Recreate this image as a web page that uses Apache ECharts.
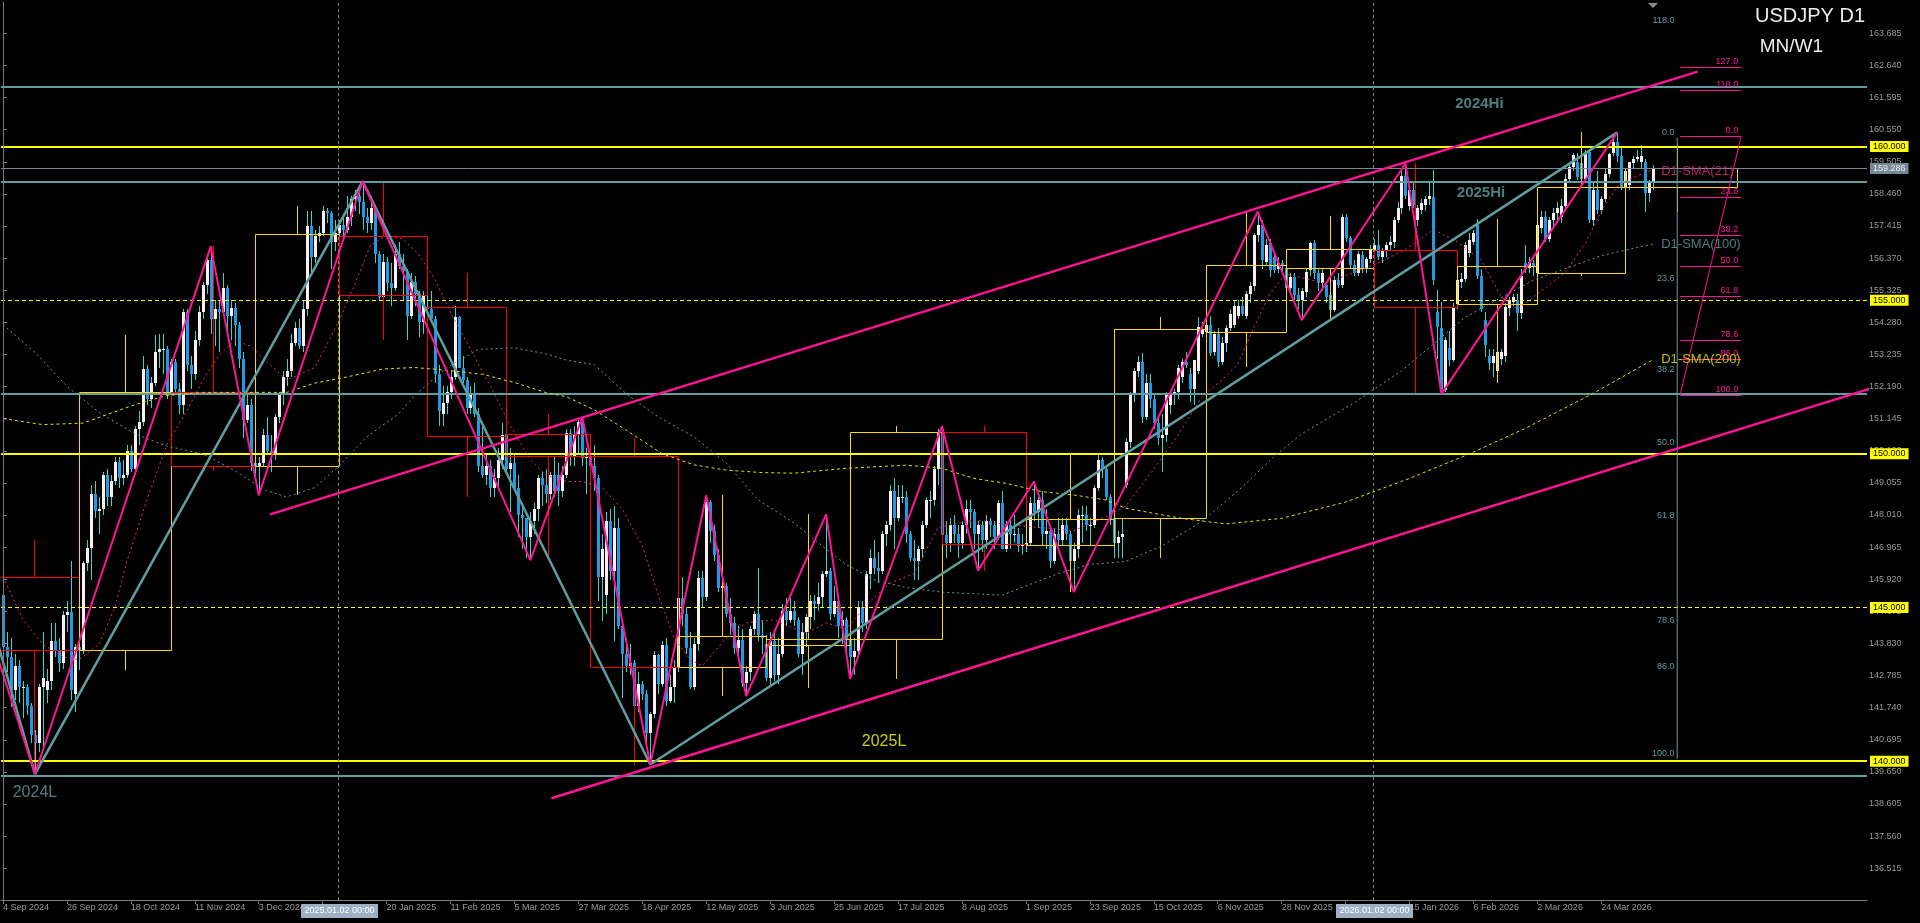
<!DOCTYPE html>
<html><head><meta charset="utf-8">
<script src="https://cdn.jsdelivr.net/npm/echarts@6/dist/echarts.min.js"></script>
<style>html,body{margin:0;padding:0;background:#000;}#c{width:1920px;height:923px;}</style>
</head><body><div id="c"></div>
<script>
// ---------- DATA ----------
// daily OHLC rows [open, high, low, close], one per trading day starting 4 Sep 2024
const ohlc = [
// Sep 2024
[145.4,145.6,143.3,143.7],[143.7,144.2,142.9,143.4],[143.4,144.0,141.75,142.3],[142.3,143.5,142.0,143.1],[143.1,143.3,141.9,142.4],
[142.4,142.6,141.4,142.4],[142.4,142.5,141.5,141.8],[141.8,141.9,140.6,140.85],[140.85,141.0,139.58,140.6],[140.6,142.5,140.3,142.4],
[142.4,144.2,140.4,142.7],[142.3,143.0,141.9,142.6],[142.6,144.5,142.3,143.9],[143.9,144.5,143.4,143.6],[143.6,144.0,142.9,143.2],
[143.2,144.9,143.0,144.75],[144.75,145.2,144.2,144.85],[144.85,146.5,142.0,142.3],[142.2,143.8,141.6,143.7],
// Oct 2024
[143.7,144.0,142.97,143.6],[143.6,146.5,143.5,146.45],[146.45,147.2,146.2,146.95],[146.95,149.0,145.9,148.7],[148.7,149.1,147.9,148.15],
[148.15,148.6,147.4,148.2],[148.2,149.4,148.0,149.3],[149.3,149.5,148.3,148.6],[148.6,149.3,148.3,149.1],[149.1,149.9,149.0,149.75],
[149.75,149.9,148.9,149.2],[149.2,149.8,149.0,149.3],[149.3,150.3,149.2,150.1],[150.1,150.3,149.4,149.5],[149.5,150.9,149.4,150.8],
[150.8,151.4,150.3,151.05],[151.05,153.2,150.9,152.75],[152.75,152.9,151.6,151.8],[151.8,152.5,151.5,152.3],[152.3,153.88,152.2,153.3],
[153.3,153.9,152.8,153.4],[153.4,153.9,152.6,153.4],[153.4,153.5,151.8,152.0],
// Nov 2024
[152.0,153.1,151.8,153.0],[153.0,153.1,151.9,152.1],[152.1,152.3,151.3,151.6],[151.6,154.7,151.3,154.6],[154.6,154.7,152.7,152.9],
[152.9,153.2,152.1,152.6],[152.6,154.0,152.4,153.7],[153.7,154.8,153.5,154.6],[154.6,155.6,154.4,155.5],[155.5,156.4,155.2,156.3],
[156.3,156.75,153.9,154.4],[154.4,155.0,153.5,154.7],[154.7,155.0,153.3,154.6],[154.6,155.9,154.5,155.4],[155.4,155.5,153.9,154.5],
[154.5,155.0,153.7,154.75],[154.75,154.9,153.5,154.2],[154.2,154.3,152.8,153.1],[153.1,153.3,150.5,151.1],[151.1,151.9,151.0,151.6],
[151.6,151.8,149.45,149.7],
// Dec 2024
[149.7,150.7,149.1,149.6],[149.6,149.9,148.65,149.7],[149.7,150.8,149.6,150.6],[150.6,151.2,150.0,150.1],[150.1,150.6,149.4,150.0],
[150.0,151.3,149.8,151.2],[151.2,152.0,151.0,151.9],[151.9,152.7,151.6,152.5],[152.5,153.1,152.2,152.7],[152.7,153.9,152.5,153.6],
[153.6,154.3,153.5,154.1],[154.1,154.4,153.4,153.5],[153.5,155.0,153.3,154.7],[154.7,157.9,154.5,157.4],[157.4,157.9,155.9,156.4],
[156.4,157.3,156.2,157.1],[157.1,157.4,156.9,157.2],[157.2,158.08,157.1,157.9],[157.9,158.0,157.5,157.85],[157.85,157.9,156.0,156.9],
[156.9,157.6,156.6,157.2],
// Jan 2025
[157.2,157.6,156.9,157.45],[157.45,157.8,157.0,157.3],[157.3,158.4,157.2,157.7],[157.7,158.4,157.4,158.3],[158.3,158.6,157.9,158.4],
[158.4,158.5,157.8,158.2],[158.2,158.87,157.3,157.7],[157.7,158.0,157.2,157.5],[157.5,158.4,157.3,158.0],[158.0,158.1,156.2,156.5],
[156.5,156.6,155.0,155.1],[155.1,156.5,154.9,156.25],[156.25,156.4,155.3,155.55],[155.55,156.2,154.8,155.4],[155.4,156.8,155.3,156.5],
[156.5,156.9,156.0,156.1],[156.1,156.5,155.0,155.95],[155.95,156.0,153.72,154.5],[154.5,155.9,154.4,155.6],[155.6,155.8,154.8,155.2],
[155.2,155.3,153.8,154.3],[154.3,155.3,153.9,155.18],
// Feb 2025
[154.78,155.88,154.1,154.7],[154.7,155.3,154.3,154.4],[154.4,154.5,152.3,152.6],[152.6,152.9,150.9,151.4],[151.3,152.2,150.9,151.65],
[151.65,152.2,151.3,152.0],[152.0,152.7,151.8,152.5],[152.5,154.8,152.4,154.45],[154.45,154.5,152.8,152.8],[152.8,153.2,152.3,152.4],
[152.4,152.5,151.3,151.5],[151.5,152.2,151.3,151.9],[151.9,152.3,151.2,151.3],[151.3,151.5,149.4,149.6],[149.6,151.0,149.2,149.3],
[149.3,150.0,149.0,149.6],[149.6,149.8,148.6,148.9],[148.9,149.5,148.6,149.2],[149.2,150.2,148.9,149.8],[149.8,151.0,149.5,150.6],
// Mar 2025
[150.64,151.3,149.4,149.5],[149.5,150.2,148.1,149.7],[149.7,150.0,148.8,148.9],[148.9,149.3,147.3,148.0],[148.0,148.4,146.9,147.9],
[147.9,147.9,146.6,147.3],[147.3,148.1,146.54,147.8],[147.8,148.4,147.4,148.2],[148.2,149.3,147.8,149.2],[149.2,149.4,148.3,149.0],
[149.0,149.5,148.4,148.7],[148.7,149.4,148.5,149.3],[149.3,149.9,148.6,148.8],[149.3,149.7,148.3,148.8],[148.8,149.6,148.6,149.3],
[149.3,150.8,149.2,150.67],[150.67,150.8,149.6,149.9],[149.9,150.9,149.6,150.6],[150.6,151.1,150.0,151.05],[151.05,151.2,149.6,149.85],
[149.85,150.2,148.7,149.94],
// Apr 2025
[149.94,150.1,149.1,149.6],[149.6,150.3,148.8,149.2],[149.2,149.3,145.2,146.0],[146.0,147.4,144.55,146.9],[145.4,148.1,144.8,147.8],
[147.8,148.2,145.9,146.2],[146.2,148.3,143.9,147.6],[147.6,147.9,144.3,144.4],[144.4,144.6,142.05,143.5],[143.5,144.0,142.9,143.1],
[143.1,143.8,142.8,143.2],[143.2,143.3,141.6,141.8],[141.8,142.9,141.6,142.5],[142.5,142.6,142.0,142.2],[142.2,142.3,140.6,140.9],
[140.9,141.6,139.89,141.55],[141.55,143.6,141.4,143.45],[143.45,143.5,142.2,142.5],[142.5,143.9,142.4,143.78],[143.78,144.0,141.8,141.95],
[141.95,142.8,141.9,142.4],[142.4,143.3,141.9,143.05],
// May 2025
[143.05,145.9,142.9,145.3],[145.3,146.0,144.4,144.8],[144.8,145.0,143.5,143.67],[143.67,144.2,142.35,142.4],[142.4,144.0,142.3,143.8],
[143.8,146.2,143.6,145.95],[145.95,146.2,145.0,145.35],[145.35,148.65,145.2,148.44],[148.44,148.5,147.1,147.5],[147.5,147.7,146.5,146.7],
[146.7,146.9,145.5,145.62],[145.62,146.2,145.4,145.7],[145.7,145.8,144.7,144.8],[144.8,145.3,144.1,144.5],[144.5,144.7,143.5,143.67],
[143.67,144.4,143.3,143.95],[143.95,144.3,142.4,142.53],[142.53,143.1,142.12,142.9],[142.9,144.4,142.6,144.3],[144.3,144.9,144.1,144.8],
[144.8,146.28,143.9,144.1],[144.1,144.6,143.5,144.0],
// Jun 2025
[143.8,144.1,142.6,142.7],[142.7,144.2,142.4,143.9],[143.9,144.3,142.6,142.8],[142.8,144.0,142.5,143.5],[143.5,145.1,143.4,144.9],
[144.9,145.3,144.4,144.6],[144.6,145.3,144.5,144.9],[144.9,145.2,144.4,144.6],[144.6,144.7,143.4,143.5],[143.5,144.5,142.8,144.2],
[144.2,144.8,143.7,144.7],[144.7,145.4,144.3,145.2],[145.2,145.4,144.6,145.1],[145.1,145.8,144.9,145.35],[145.35,146.2,145.0,146.1],
[146.1,148.03,146.0,146.2],[146.2,146.3,144.6,144.8],[144.8,145.7,144.7,145.2],[145.2,145.4,144.0,144.4],[144.4,144.9,143.8,144.6],
[144.6,144.7,143.6,143.96],
// Jul 2025
[143.96,144.1,142.68,143.4],[143.4,144.0,142.8,143.6],[143.6,145.2,143.4,145.0],[145.0,145.2,144.2,144.5],[144.5,146.2,144.3,146.1],
[146.1,146.9,145.6,146.6],[146.6,147.2,146.1,146.3],[146.3,146.8,145.8,146.2],[146.2,147.5,146.1,147.4],[147.4,147.8,147.0,147.7],
[147.7,149.0,147.5,148.8],[148.8,149.2,146.9,147.9],[147.9,149.0,147.8,148.6],[148.6,149.0,148.4,148.6],[148.6,148.8,147.1,147.4],
[147.4,147.5,146.5,146.6],[146.6,147.2,145.9,146.5],[146.5,147.0,145.9,146.9],[146.9,147.8,146.6,147.7],[147.7,148.6,147.6,148.5],
[148.5,148.8,147.9,148.5],[148.5,149.6,148.3,149.5],[149.5,150.8,149.0,150.7],
// Aug 2025
[150.7,150.9,147.3,147.36],[147.36,147.8,146.6,147.1],[147.1,147.9,146.8,147.7],[147.7,148.0,147.1,147.4],[147.4,147.7,146.6,147.1],
[147.1,147.8,146.9,147.7],[147.7,148.5,147.4,148.2],[148.2,148.5,147.6,148.1],[148.1,148.2,146.9,147.4],[147.4,147.8,146.2,147.7],
[147.7,147.8,146.8,147.2],[147.2,148.0,146.9,147.8],[147.8,147.9,147.3,147.7],[147.7,147.8,146.9,147.3],[147.3,148.5,147.2,148.4],
[148.4,148.8,146.9,146.9],[146.9,147.8,146.8,147.7],[147.7,147.9,146.9,147.4],[147.4,148.0,147.1,147.4],[147.4,147.6,146.8,147.0],
[147.0,147.4,146.7,147.04],
// Sep 2025
[147.04,147.5,146.8,147.1],[147.1,148.6,147.0,148.4],[148.4,149.1,147.8,148.1],[148.1,148.6,147.6,148.5],[148.5,148.8,147.0,147.4],
[147.4,148.2,146.9,147.5],[147.5,147.6,146.3,146.5],[146.5,147.6,146.4,147.4],[147.4,147.9,147.0,147.2],[147.2,147.9,147.0,147.7],
[147.7,147.9,147.2,147.4],[147.4,147.5,146.3,146.5],[146.5,147.1,145.5,146.9],[146.9,148.2,146.6,148.0],[148.0,148.3,147.1,148.0],
[148.0,148.3,147.5,147.7],[147.7,147.9,147.0,147.7],[147.7,149.0,147.6,148.9],[148.9,149.95,148.8,149.8],[149.8,149.9,149.2,149.5],
[149.5,149.6,148.5,148.6],[148.6,148.7,147.7,147.87],
// Oct 2025
[147.9,148.0,146.6,147.1],[147.1,147.5,146.6,147.3],[147.3,147.9,146.6,147.4],[149.0,150.5,148.9,150.4],[150.4,152.0,150.2,151.9],
[151.9,152.8,151.7,152.7],[152.7,153.2,152.5,153.0],[153.0,153.27,151.0,151.2],[151.2,152.6,151.1,152.3],[152.3,152.6,151.5,151.8],
[151.8,151.9,150.8,151.0],[151.0,151.2,150.3,150.5],[150.5,151.3,149.4,150.6],[150.6,152.0,150.4,151.9],[151.6,152.0,151.3,151.9],
[151.9,152.1,151.6,152.0],[152.0,152.9,151.8,152.8],[152.5,153.1,152.3,153.0],[153.0,153.3,152.8,152.9],[152.6,152.8,151.7,152.1],
[152.1,153.0,151.6,153.05],[152.7,154.45,152.6,154.14],[153.9,154.3,153.8,154.05],
// Nov 2025
[153.96,154.5,153.8,154.2],[154.2,154.5,153.2,153.27],[153.3,154.0,153.2,153.9],[153.9,154.1,152.84,153.0],[153.0,153.8,152.9,153.6],
[153.6,154.2,153.3,154.1],[154.1,154.7,154.0,154.55],[154.2,155.0,154.1,154.8],[154.5,155.0,154.4,154.8],[154.8,155.1,154.5,154.55],
[154.5,155.3,154.4,155.2],[155.2,155.6,154.9,155.45],[155.45,157.2,155.3,157.12],[157.12,157.88,156.9,157.45],[157.45,157.6,156.0,156.3],
[156.25,157.0,156.1,156.8],[156.85,157.0,155.76,155.98],[156.4,156.5,155.9,155.98],[156.0,156.4,155.9,156.2],[156.2,156.3,155.9,156.1],
// Dec 2025
[156.04,156.2,155.3,155.39],[155.39,155.9,155.2,155.77],[155.77,155.9,155.0,155.17],[155.17,155.4,154.7,155.0],[155.0,155.4,154.35,155.3],
[155.28,156.0,155.1,155.93],[155.98,156.9,155.8,156.85],[156.85,156.95,155.7,155.9],[155.9,156.0,155.3,155.55],[155.55,156.0,155.3,155.9],
[155.5,155.6,154.9,155.1],[155.17,155.2,154.4,154.68],[154.68,155.8,154.6,155.66],[155.66,155.9,155.4,155.5],[155.5,157.8,155.4,157.72],
[157.7,157.8,156.9,157.01],[157.01,157.1,156.0,156.14],[156.14,156.3,155.8,155.87],[155.87,156.6,155.8,156.5],[156.46,156.6,155.9,156.04],
[156.04,156.4,155.9,156.35],[156.35,156.8,156.2,156.67],
// Jan 2026
[156.63,157.0,156.5,156.8],[156.8,157.3,156.3,156.4],[156.4,156.7,156.2,156.6],[156.6,156.9,156.4,156.8],[156.8,157.1,156.6,156.9],
[156.9,157.7,156.7,157.6],[157.6,158.2,157.5,158.0],[158.0,159.2,157.8,159.05],[159.05,159.45,158.3,158.4],[158.05,158.7,157.9,158.6],
[158.6,158.8,158.0,158.1],[157.6,158.1,157.4,158.0],[157.95,158.3,157.8,158.15],[158.1,158.4,157.9,158.3],[158.3,158.85,158.1,158.4],
[158.35,159.24,155.5,155.66],[154.63,155.33,153.1,154.14],[154.08,154.95,151.95,152.08],[152.08,153.8,152.0,153.7],[153.43,154.0,152.85,153.05],
[153.05,154.9,153.0,154.77],
// Feb 2026
[154.86,155.8,154.7,155.66],[155.6,155.9,155.4,155.7],[155.7,156.9,155.6,156.8],[156.55,157.2,156.4,156.95],[156.9,157.3,156.8,157.2],
[157.5,157.64,155.7,155.8],[155.8,156.0,154.6,154.7],[154.35,154.6,153.15,153.55],[153.2,153.4,152.73,152.95],[152.95,153.4,152.5,153.2],
[152.7,153.4,152.29,153.3],[153.1,153.4,152.9,153.3],[153.2,154.9,153.0,154.79],[154.75,155.1,154.5,155.0],[154.95,155.2,154.8,155.1],
[155.0,155.2,154.0,154.57],[154.57,156.0,154.4,155.8],[156.2,156.8,155.9,156.05],[156.05,156.4,155.9,156.25],[156.2,156.3,155.8,156.11],
// Mar 2026
[155.87,157.5,155.8,157.45],[157.34,157.9,157.2,157.72],[157.72,157.9,156.9,157.0],[157.0,157.7,156.9,157.6],[157.6,158.0,157.4,157.85],
[157.85,158.2,157.6,158.0],[157.7,158.3,157.5,158.05],[158.05,159.1,157.9,158.96],[158.96,159.5,158.8,159.34],[159.34,159.8,159.2,159.72],
[159.5,159.8,158.9,159.0],[159.45,159.6,158.8,158.95],[158.95,159.9,158.8,159.75],[159.83,159.9,157.5,157.61],[157.61,158.8,157.4,158.6],
[158.6,159.2,157.8,157.95],[157.95,158.4,157.8,158.3],[158.3,159.3,158.2,159.1],[159.1,159.8,159.0,159.75],[159.78,160.4,159.7,160.16],
[160.16,160.46,159.5,159.7],[159.7,160.0,158.6,158.69],
// Apr 2026
[158.69,159.3,158.25,159.2],[158.75,159.5,158.6,159.5],[159.45,159.7,159.3,159.6],[159.6,159.9,159.5,159.65],[159.5,160.05,159.3,159.7],
[159.5,159.6,157.88,158.5],[158.5,158.9,158.2,158.8],[158.8,159.4,158.6,159.286]
];

// monthly candles (MN overlay): [firstBar, nextMonthFirstBar, open, close, high, low, wickBar]
const months = [
[-2,19,146.0,143.62,147.2,139.58,7.75],[19,42,143.62,152.0,153.88,142.97,30.5],[42,63,152.0,149.6,156.75,149.45,52.5],
[63,84,149.6,157.17,158.08,148.65,73.5],[84,106,157.1,155.18,158.87,153.72,95],[106,126,154.78,150.57,155.88,148.6,116],
[126,147,150.64,149.94,151.3,146.54,136.5],[147,169,149.94,143.05,150.5,139.89,158],[169,191,143.05,144.07,148.65,142.12,180],
[191,212,143.78,143.96,148.03,142.37,201.5],[212,235,143.96,150.7,150.9,142.68,223.5],[235,256,150.7,147.05,150.9,146.2,245.5],
[256,278,147.04,147.87,149.95,145.5,267],[278,301,147.9,154.05,154.45,146.6,289.5],[301,321,153.96,156.15,157.88,152.84,311],
[321,343,156.04,156.67,157.74,154.35,332],[343,364,156.63,154.77,159.45,151.95,353.5],[364,384,154.86,156.11,157.64,152.29,374],
[384,406,155.87,158.69,160.48,155.8,395],[406,434,158.69,159.29,160.05,157.88,419]
];

// moving averages: [bar, value]
const sma21 = [[0,146.0],[5,144.6],[10,143.8],[15,143.4],[19,143.3],[24,143.8],[28,145.0],[31,146.5],[36,148.5],[41,150.3],[46,151.4],[50,152.4],[54,153.2],[58,153.7],[62,153.5],[66,153.0],[71,152.4],[78,152.8],[84,154.3],[88,155.5],[92,156.8],[96,157.1],[100,157.0],[104,156.5],[108,155.7],[112,154.6],[117,153.4],[122,152.2],[127,150.9],[132,149.8],[136,149.3],[141,149.1],[145,149.1],[150,148.9],[155,148.2],[160,147.0],[164,145.4],[168,144.0],[172,143.3],[175,143.1],[181,144.0],[186,144.5],[193,144.6],[201,144.15],[206,144.5],[211,144.3],[217,145.2],[222,145.8],[228,146.1],[234,147.6],[243,147.85],[251,147.7],[260,147.6],[268,147.5],[276,147.95],[281,148.3],[288,149.5],[294,150.6],[300,151.85],[305,152.4],[309,152.9],[313,154.1],[317,155.2],[321,155.85],[326,155.7],[331,155.55],[338,155.9],[344,156.2],[351,156.65],[358,157.3],[364,156.9],[370,156.3],[375,155.1],[379,154.7],[385,155.3],[391,155.9],[396,156.85],[400,157.9],[404,158.7],[408,159.0],[413,159.25]];
const sma100 = [[0,154.2],[8,153.3],[16,152.2],[24,151.35],[33,150.65],[41,150.25],[50,150.0],[58,149.45],[66,148.8],[71,148.6],[78,148.9],[84,149.6],[91,150.55],[99,151.3],[103,151.9],[111,152.8],[119,153.4],[128,153.45],[136,153.25],[141,153.05],[148,152.9],[156,151.95],[164,151.2],[173,150.55],[181,149.7],[189,148.5],[198,147.75],[206,146.9],[211,146.4],[218,145.9],[226,145.65],[235,145.5],[250,145.4],[264,146.1],[272,146.4],[281,146.5],[290,147.0],[300,147.8],[310,148.9],[318,149.9],[325,150.65],[338,151.65],[350,152.7],[366,154.45],[383,155.65],[400,156.45],[413,156.83]];
const sma200 = [[0,151.15],[10,150.95],[20,151.0],[33,151.6],[41,151.9],[50,152.0],[58,152.0],[71,152.0],[78,152.3],[86,152.5],[95,152.76],[103,152.81],[111,152.72],[120,152.59],[128,152.32],[136,151.99],[141,151.86],[148,151.43],[156,150.77],[165,150.0],[173,149.64],[181,149.47],[190,149.39],[198,149.37],[206,149.47],[211,149.53],[226,149.63],[235,149.53],[243,149.2],[251,149.04],[260,148.77],[268,148.66],[276,148.5],[281,148.23],[295,147.9],[306,147.72],[320,147.9],[336,148.43],[352,149.2],[367,150.0],[381,150.83],[398,151.97],[413,153.07]];

// drawn objects
const zigzagPink = [[-2,143.65],[8,139.58],[52,156.75],[64,148.65],[90,158.87],[132,146.54],[145,151.2],[162,139.89],[176,148.65],[186,142.12],[206,148.03],[212,142.68],[235,150.9],[244,146.2],[258,149.1],[268,145.5],[314,157.88],[325,154.35],[351,159.45],[360,151.95],[404,160.46]];
const zigzagTeal = [[-2,144.15],[8,139.58],[90,158.87],[162,139.89],[404,160.46]];
const channelUpper = [[66.85,148.03],[424.1,162.44]];
const channelLower = [[137.25,138.79],[470,152.23]];
const hLevels = [161.95,158.87,151.97,139.54];          // 2024Hi, 2025Hi, 2026 low, 2024L
const roundLevels = [160.0,155.0,150.0,145.0,140.0];
const roundDashed = [false,true,false,true,false];
const bidPrice = 159.286;
const separators = [84,343];
const separatorLabels = ['2025.01.02 00:00','2026.01.02 00:00'];
const fibPink = {high:160.33, low:151.92, x0:419.75, x1:435};
const fibPinkLevels = [0,23.6,38.2,50,61.8,78.6,86,100,118,127];
const fibTeal = {high:160.29, low:140.08, x:419, labelX:418.3};
const fibTealLevels = [0,23.6,38.2,50,61.8,78.6,86,100,118];

// axis ticks
const yTicks = [136.515,137.560,138.605,139.650,140.695,141.740,142.785,143.830,144.875,145.920,146.965,148.010,149.055,150.100,151.145,152.190,153.235,154.280,155.325,156.370,157.415,158.460,159.505,160.550,161.595,162.640,163.685];
const xTickIdx = [0,16,32,48,64,80,96,112,128,144,160,176,192,208,224,240,256,272,288,304,320,336,352,368,384,400];
const xTickLabels = ['4 Sep 2024','26 Sep 2024','18 Oct 2024','11 Nov 2024','3 Dec 2024','26 Dec 2024','20 Jan 2025','11 Feb 2025','5 Mar 2025','27 Mar 2025','18 Apr 2025','12 May 2025','3 Jun 2025','25 Jun 2025','17 Jul 2025','8 Aug 2025','1 Sep 2025','23 Sep 2025','15 Oct 2025','6 Nov 2025','28 Nov 2025','22 Dec 2025','15 Jan 2026','6 Feb 2026','2 Mar 2026','24 Mar 2026'];

// ---------- CHART ----------
const PINK='#ff1493', TEAL='#5f9ea0', YEL='#ffff00', GOLD='#ffd700', RED='#ff0000';
const FONT='"Liberation Sans", Arial, sans-serif';
const Y_MIN=135.481, Y_MAX=164.704, X_MIN=-0.5, X_MAX=466.5;

const candleData = ohlc.map((r,i)=>[i,r[0],r[3],r[2],r[1]]);
const tickLabelMap = {}; xTickIdx.forEach((v,k)=>tickLabelMap[v]=xTickLabels[k]);

// fib level -> price (levels above 100 are projected beyond the 0 end, as drawn)
function fibPrice(f,lv){
  const r=f.high-f.low;
  return lv<=100 ? f.high-lv/100*r : f.high+(lv-100)/100*r;
}

function lineSeries(data,color,width,type,z){
  return {type:'line',data:data,showSymbol:false,symbol:'none',silent:true,z:z||6,
    lineStyle:{color:color,width:width,type:type||'solid'},animation:false};
}

const markLines = [];
hLevels.forEach(v=>markLines.push({yAxis:v,lineStyle:{color:TEAL,width:2,type:'solid'},label:{show:false}}));
roundLevels.forEach((v,k)=>markLines.push({yAxis:v,lineStyle:{color:YEL,width:roundDashed[k]?1:2,type:roundDashed[k]?[4,3]:'solid'},
  label:{show:true,position:'end',distance:3,formatter:v.toFixed(3),backgroundColor:YEL,color:'#000',padding:[1,3,0,3],fontSize:9,fontFamily:FONT,lineHeight:10}}));
markLines.push({yAxis:bidPrice,lineStyle:{color:'#778899',width:1,type:'solid'},
  label:{show:true,position:'end',distance:3,formatter:bidPrice.toFixed(3),backgroundColor:'#778899',color:'#e8eef4',padding:[1,3,0,3],fontSize:9,fontFamily:FONT,lineHeight:10}});
separators.forEach(v=>markLines.push({xAxis:v,lineStyle:{color:'#778899',width:1,type:[3,3]},label:{show:false}}));

const textItems = [
  {value:[369.5,161.385],label:{formatter:'2024Hi',color:TEAL,fontSize:15,fontWeight:'bold',align:'center'}},
  {value:[369.9,158.48],label:{formatter:'2025Hi',color:TEAL,fontSize:15,fontWeight:'bold',align:'center'}},
  {value:[220.5,140.62],label:{formatter:'2025L',color:YEL,fontSize:16,align:'center'}},
  {value:[8,138.97],label:{formatter:'2024L',color:TEAL,fontSize:16,align:'center'}},
  {value:[415,sma21[sma21.length-1][1]-0.06],label:{formatter:'D1-SMA(21)',color:'#e8287c',fontSize:13,align:'left'}},
  {value:[415,sma100[sma100.length-1][1]],label:{formatter:'D1-SMA(100)',color:TEAL,fontSize:13,align:'left'}},
  {value:[415,sma200[sma200.length-1][1]],label:{formatter:'D1-SMA(200)',color:'#eeee00',fontSize:13,align:'left'}}
];

const option = {
  backgroundColor:'#000',
  animation:false,
  title:[
    {text:'USDJPY D1',right:55,top:6,padding:0,textStyle:{color:'#ececec',fontSize:20,fontWeight:'normal',fontFamily:FONT}},
    {text:'MN/W1',right:97,top:37,padding:0,textStyle:{color:'#ececec',fontSize:19,fontWeight:'normal',fontFamily:FONT}}
  ],
  grid:{left:0,right:53,top:2,bottom:23,containLabel:false},
  xAxis:{type:'value',min:X_MIN,max:X_MAX,position:'bottom',
    axisLine:{show:true,lineStyle:{color:'#7a7a7a',width:1}},
    axisTick:{show:true,length:4,lineStyle:{color:'#7a7a7a'},customValues:xTickIdx},
    axisLabel:{show:true,customValues:xTickIdx,formatter:v=>tickLabelMap[v]||'',align:'left',margin:3,color:'#9a9a9a',fontSize:9,fontFamily:FONT},
    splitLine:{show:false}},
  yAxis:{type:'value',min:Y_MIN,max:Y_MAX,position:'right',
    axisLine:{show:true,lineStyle:{color:'#7a7a7a',width:1}},
    axisTick:{show:true,length:4,lineStyle:{color:'#7a7a7a'},customValues:yTicks},
    axisLabel:{show:true,customValues:yTicks,formatter:v=>v.toFixed(3),margin:2,color:'#9a9a9a',fontSize:9,fontFamily:FONT},
    splitLine:{show:false}},
  series:[
    {type:'custom',name:'candles',data:candleData,clip:true,z:3,silent:true,
      encode:{x:0,y:[1,2,3,4]},
      renderItem:function(params,api){
        const i=api.value(0),o=api.value(1),c=api.value(2),l=api.value(3),h=api.value(4);
        const pO=api.coord([i,o]),pC=api.coord([i,c]),pL=api.coord([i,l]),pH=api.coord([i,h]);
        const cx=Math.round(pO[0]);
        const bull=c>=o;
        const top=Math.round(Math.min(pO[1],pC[1])),bot=Math.round(Math.max(pO[1],pC[1]));
        return {type:'group',children:[
          {type:'line',shape:{x1:cx+0.5,y1:Math.round(pH[1]),x2:cx+0.5,y2:Math.round(pL[1])},style:{stroke:'#3ad4cc',lineWidth:1}},
          {type:'rect',shape:{x:cx-1,y:top,width:3,height:Math.max(1,bot-top)},style:{fill:bull?'#fdeef1':'#1f9be4'}}
        ]};
      }},
    {type:'custom',name:'months',data:months,clip:true,z:4,silent:true,
      encode:{x:[0,1],y:[2,3,4,5]},
      renderItem:function(params,api){
        const s=api.value(0),e=api.value(1),o=api.value(2),c=api.value(3),h=api.value(4),l=api.value(5),w=api.value(6);
        const col=c>=o?GOLD:RED;
        const a=api.coord([s,Math.max(o,c)]),b=api.coord([e,Math.min(o,c)]);
        const pw=api.coord([w,h]),pl=api.coord([w,l]);
        const x0=Math.round(a[0])+0.5,y0=Math.round(a[1])+0.5,x1=Math.round(b[0])+0.5,y1=Math.round(b[1])+0.5;
        const xm=Math.round(pw[0])+0.5;
        return {type:'group',children:[
          {type:'rect',shape:{x:x0,y:y0,width:x1-x0,height:Math.max(1,y1-y0)},style:{fill:'none',stroke:col,lineWidth:1}},
          {type:'line',shape:{x1:xm,y1:Math.round(pw[1]),x2:xm,y2:y0},style:{stroke:col,lineWidth:1}},
          {type:'line',shape:{x1:xm,y1:y1,x2:xm,y2:Math.round(pl[1])},style:{stroke:col,lineWidth:1}}
        ]};
      }},
    {type:'line',name:'levels',data:[],silent:true,z:5,
      markLine:{symbol:'none',silent:true,animation:false,precision:3,data:markLines}},
    lineSeries(sma21,'#e8287c',1,[2,3],5),
    lineSeries(sma100,TEAL,1,[2,3],5),
    lineSeries(sma200,'#e6e600',1,[3,3],5),
    lineSeries(channelUpper,PINK,2.5,'solid',7),
    lineSeries(channelLower,PINK,2.5,'solid',7),
    lineSeries(zigzagTeal,TEAL,2.5,'solid',6),
    lineSeries(zigzagPink,PINK,2,'solid',7),
    lineSeries([[fibPink.x0,fibPink.low],[fibPink.x1,fibPink.high]],PINK,1,'solid',7),
    lineSeries([[fibTeal.x,fibTeal.high],[fibTeal.x,fibTeal.low]],TEAL,1,'solid',6),
    {type:'custom',name:'fibPink',data:fibPinkLevels.map(v=>[v]),clip:false,z:8,silent:true,
      renderItem:function(params,api){
        const lv=api.value(0);
        const p=fibPrice(fibPink,lv);
        const a=api.coord([fibPink.x0,p]),b=api.coord([fibPink.x1,p]);
        const y=Math.round(a[1])+0.5;
        return {type:'group',children:[
          {type:'line',shape:{x1:a[0],y1:y,x2:b[0],y2:y},style:{stroke:PINK,lineWidth:1}},
          {type:'text',x:b[0]-3,y:y-1,style:{text:lv.toFixed(1),fill:PINK,font:'9px '+FONT,align:'right',verticalAlign:'bottom'}}
        ]};
      }},
    {type:'custom',name:'fibTeal',data:fibTealLevels.map(v=>[v]),clip:false,z:8,silent:true,
      renderItem:function(params,api){
        const lv=api.value(0);
        const p=fibPrice(fibTeal,lv);
        const a=api.coord([fibTeal.labelX,p]);
        return {type:'text',x:a[0],y:Math.round(a[1])-1,style:{text:lv.toFixed(1),fill:TEAL,font:'9px '+FONT,align:'right',verticalAlign:'bottom'}};
      }},
    {type:'scatter',name:'texts',data:textItems,symbolSize:0,silent:true,z:9,
      label:{show:true,position:[0,0],verticalAlign:'middle',fontFamily:FONT}}
  ]
};

const chart = echarts.init(document.getElementById('c'),null,{renderer:'canvas',width:1920,height:923});
chart.setOption(option);

// overlay graphics positioned through the axes
const g = [];
const gridBottom = chart.convertToPixel({yAxisIndex:0},Y_MIN);
const gridTop = chart.convertToPixel({yAxisIndex:0},Y_MAX);
const gridLeft = chart.convertToPixel({xAxisIndex:0},X_MIN);
g.push({type:'line',shape:{x1:gridLeft+2.5,y1:gridTop,x2:gridLeft+2.5,y2:gridBottom},style:{stroke:'#7a7a7a',lineWidth:1},z:20});
separators.forEach((v,k)=>{
  const x=Math.round(chart.convertToPixel({xAxisIndex:0},v));
  g.push({type:'rect',shape:{x:x-38,y:gridBottom+4,width:77,height:14},style:{fill:'#9fb0c4'},z:30});
  g.push({type:'text',x:x+0.5,y:gridBottom+11,style:{text:separatorLabels[k],fill:'#ffffff',font:'9px '+FONT,align:'center',verticalAlign:'middle'},z:31});
});
const lastX = Math.round(chart.convertToPixel({xAxisIndex:0},ohlc.length-1));
g.push({type:'polygon',shape:{points:[[lastX-5,gridTop+1],[lastX+5,gridTop+1],[lastX,gridTop+6]]},style:{fill:'#8a8a8a'},z:30});
chart.setOption({graphic:g});
</script>
</body></html>
